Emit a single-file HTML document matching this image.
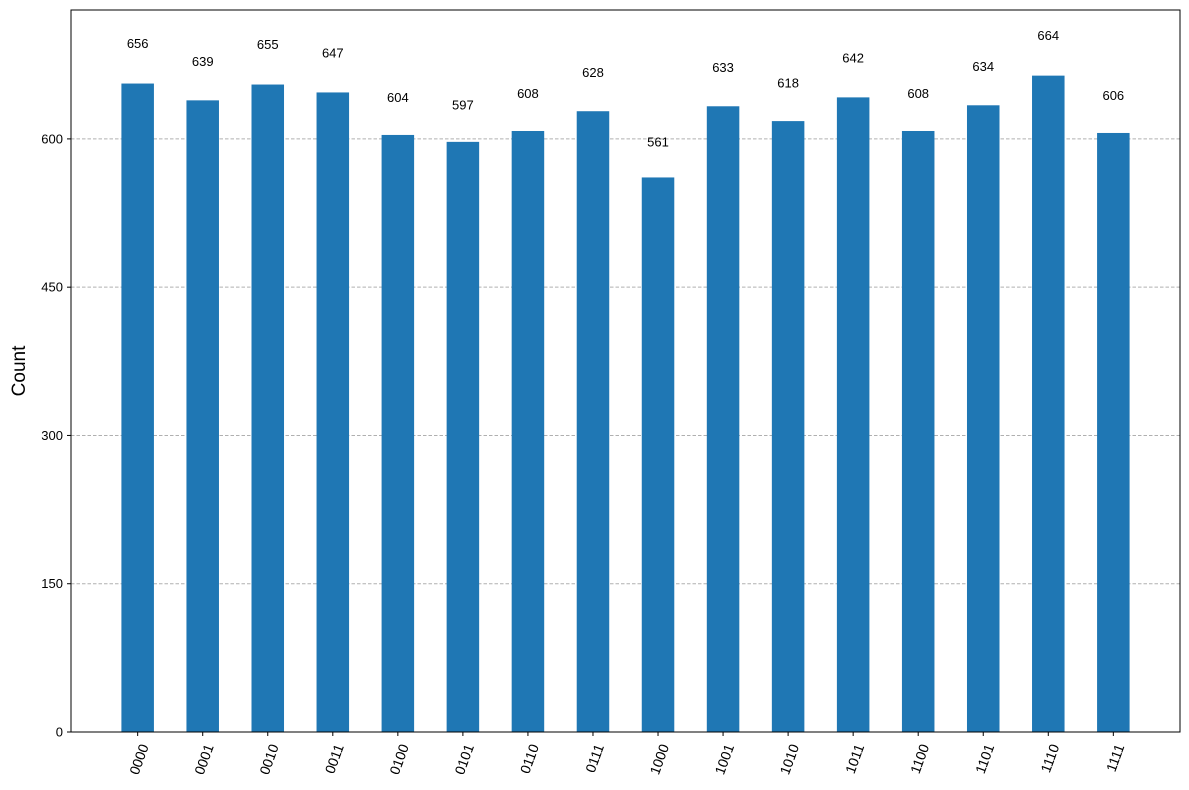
<!DOCTYPE html>
<html><head><meta charset="utf-8"><style>
body{margin:0;background:#fff;}
svg{display:block;font-family:"Liberation Sans","DejaVu Sans",sans-serif;}
</style></head><body>
<svg id="chart" width="1189" height="790"></svg>
<script>
const categories=["0000","0001","0010","0011","0100","0101","0110","0111","1000","1001","1010","1011","1100","1101","1110","1111"];
const counts=[656,639,655,647,604,597,608,628,561,633,618,642,608,634,664,606];
const yTicks=[0,150,300,450,600];
const NS="http://www.w3.org/2000/svg";
const svg=document.getElementById('chart');
const L=71,R=1180,T=10,B=732;
const ymax=Math.max(...counts)*1.1;
const xmin=-0.25-0.05*(categories.length-0.5), xmax=categories.length-0.75+0.05*(categories.length-0.5);
const sx=v=>L+(v-xmin)/(xmax-xmin)*(R-L);
const sy=v=>B-v/ymax*(B-T);
function mk(tag,attrs,parent){const e=document.createElementNS(NS,tag);for(const k in attrs)e.setAttribute(k,attrs[k]);(parent||svg).appendChild(e);return e;}
yTicks.forEach(t=>{
  if(t>0){const g=mk('line',{x1:L,x2:R,y1:sy(t),y2:sy(t),stroke:'#b0b0b0','stroke-dasharray':'3.5,2','stroke-width':1});
  
  }
  const tk=mk('line',{x1:L-4,x2:L,y1:sy(t),y2:sy(t),stroke:'#000'});
  
  
  const lb=mk('text',{x:L-8,y:sy(t)+4.5,'text-anchor':'end','font-size':13});
  lb.textContent=t;
  
  
});
categories.forEach((c,i)=>{
  const v=counts[i],cx=sx(i),w=sx(0.5)-sx(0);
  const r=mk('rect',{x:cx-w/2,y:sy(v),width:w,height:B-sy(v),fill:'#1f77b4'});
  
  
  const t=mk('text',{x:cx,y:sy(v*1.05)-3,'text-anchor':'middle','font-size':13});
  t.textContent=v;
  
  
  const tk=mk('line',{x1:cx,x2:cx,y1:B,y2:B+4,stroke:'#000'});
  
  
  const xl=mk('text',{x:0,y:0,'text-anchor':'end','font-size':14,transform:`translate(${cx+2},${B+11}) rotate(-70)`,dy:'0.7em'});
  xl.textContent=c;
  
  
});
const frame=mk('rect',{x:L,y:T,width:R-L,height:B-T,fill:'none',stroke:'#000','stroke-width':1});


const yl=mk('text',{x:0,y:0,'text-anchor':'middle','font-size':19,transform:`translate(25,${(T+B)/2}) rotate(-90)`});
yl.textContent='Count';


</script>
</body></html>
